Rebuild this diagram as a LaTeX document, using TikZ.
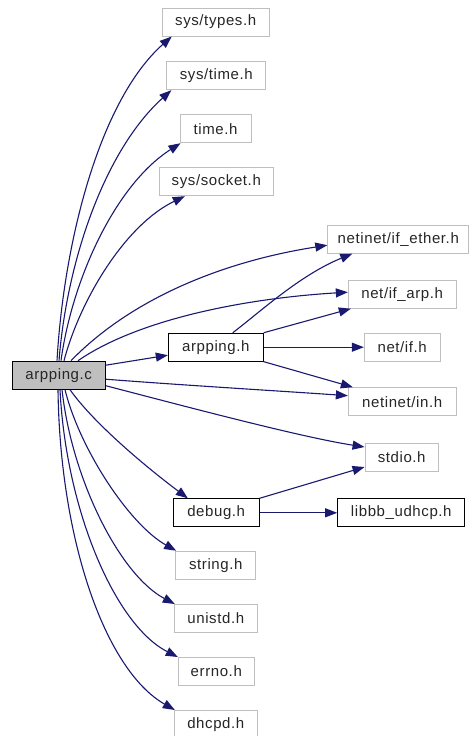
\documentclass[tikz,border=0pt]{standalone}
\usepackage{fontspec}
\setmainfont{Liberation Sans}[LetterSpace=4]
\usetikzlibrary{arrows.meta}
\definecolor{edgeblue}{HTML}{191970}
\definecolor{boxgray}{HTML}{BFBFBF}
\definecolor{fillgray}{HTML}{BFBFBF}
\tikzset{
  hdr/.style={draw=boxgray, line width=1pt, inner sep=0pt, minimum height=28pt, font=\fontsize{15}{15}\selectfont, text=black!85},
  own/.style={hdr, draw=black},
  main/.style={hdr, draw=black, fill=fillgray},
  dep/.style={draw=edgeblue, line width=1.1pt, -{Triangle[length=12pt,width=9pt]}},
}
\begin{document}
\begin{tikzpicture}[x=1pt,y=-1pt]
\useasboundingbox (0,0) rectangle (469,736);
\node[main, minimum width=93pt] (c) at (58.7,375.2) {arpping.c};
\node[hdr, minimum width=107pt] (types) at (215.7,22) {sys/types.h};
\node[hdr, minimum width=99pt] (stime) at (216.3,75.7) {sys/time.h};
\node[hdr, minimum width=71pt] (time) at (215.5,128.7) {time.h};
\node[hdr, minimum width=114pt] (socket) at (216.3,181.7) {sys/socket.h};
\node[hdr, minimum width=141pt] (ether) at (398.3,239.2) {netinet/if\_ether.h};
\node[hdr, minimum width=107.7pt] (arp) at (402.2,294.2) {net/if\_arp.h};
\node[own, minimum width=95pt] (ah) at (215.8,347.2) {arpping.h};
\node[hdr, minimum width=75.7pt] (ifh) at (402.2,347.2) {net/if.h};
\node[hdr, minimum width=107.7pt] (inh) at (402.2,401.7) {netinet/in.h};
\node[hdr, minimum width=73.3pt] (stdio) at (401.7,457.5) {stdio.h};
\node[own, minimum width=85.7pt] (debug) at (216.2,512.8) {debug.h};
\node[own, minimum width=127.3pt] (libbb) at (401.3,512.8) {libbb\_udhcp.h};
\node[hdr, minimum width=80.3pt] (string) at (215.8,565.2) {string.h};
\node[hdr, minimum width=83pt] (unistd) at (215.8,618.5) {unistd.h};
\node[hdr, minimum width=76pt] (errno) at (216.3,671.5) {errno.h};
\node[hdr, minimum width=83pt] (dhcpd) at (215.8,724.5) {dhcpd.h};
% upper fan
\draw[dep] ([xshift=-1.7pt]c.north) .. controls (64,240) and (100,100) .. ([xshift=10pt]types.south west);
\draw[dep] ([xshift=0.3pt]c.north) .. controls (67,260) and (105,150) .. ([xshift=5pt]stime.south west);
\draw[dep] ([xshift=2.3pt]c.north) .. controls (72,280) and (115,185) .. ([xshift=1pt]time.south west);
\draw[dep] ([xshift=5.3pt]c.north) .. controls (80,300) and (125,225) .. ([xshift=26pt]socket.south west);
\draw[dep] ([xshift=12.3pt]c.north) .. controls (130,300) and (220,262) .. ([yshift=-6pt]ether.west);
\draw[dep] ([xshift=19.3pt]c.north) .. controls (140,318) and (250,298) .. ([yshift=2pt]arp.west);
% right side
\draw[dep] ([yshift=10pt]c.east) -- ([yshift=-8pt]ah.west);
\draw[dep] ([yshift=-4pt]c.east) .. controls (180,385) and (280,391) .. ([yshift=6pt]inh.west);
\draw[dep] ([yshift=-10.5pt]c.east) .. controls (180,405) and (300,437) .. ([yshift=-4pt]stdio.north west);
% lower fan
\draw[dep] ([xshift=11.3pt]c.south) .. controls (95,425) and (150,470) .. ([xshift=15pt]debug.north west);
\draw[dep] ([xshift=6.3pt]c.south) .. controls (80,450) and (130,525) .. ([xshift=1pt]string.north west);
\draw[dep] ([xshift=3.3pt]c.south) .. controls (72,480) and (120,575) .. ([xshift=1pt]unistd.north west);
\draw[dep] ([xshift=1.3pt]c.south) .. controls (66,510) and (115,625) .. (errno.north west);
\draw[dep] ([xshift=-0.7pt]c.south) .. controls (60,540) and (105,670) .. ([xshift=1pt]dhcpd.north west);
% arpping.h
\draw[dep] ([xshift=17pt]ah.north) .. controls (260,312) and (300,275) .. ([xshift=25pt]ether.south west);
\draw[dep] (ah.north east) -- ([xshift=3pt]arp.south west);
\draw[dep] (ah.east) -- (ifh.west);
\draw[dep] (ah.south east) -- ([xshift=5pt]inh.north west);
% debug.h
\draw[dep] (debug.north east) -- ([yshift=5pt]stdio.south west);
\draw[dep] (debug.east) -- (libbb.west);
\end{tikzpicture}
\end{document}
